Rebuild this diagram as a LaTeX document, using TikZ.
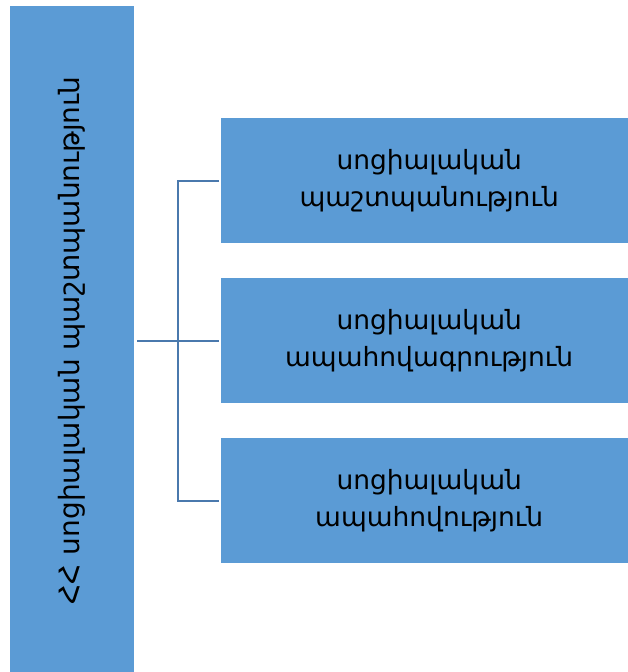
\documentclass[tikz,border=0pt]{standalone}
\usepackage{fontspec}
\setmainfont{DejaVu Sans}
\definecolor{boxblue}{HTML}{5B9BD5}
\definecolor{linkblue}{HTML}{4A79AD}
\begin{document}
\begin{tikzpicture}[x=1pt,y=-1pt,
  box/.style={fill=boxblue, draw=none, inner sep=0pt},
  lbl/.style={font=\fontsize{26.5}{37}\selectfont, align=center, text=black},
  vlbl/.style={font=\fontsize{28}{37}\selectfont, text=black},
  link/.style={draw=linkblue, line width=2pt}]
\useasboundingbox (0,0) rectangle (628,672);
\node[box, minimum width=124pt, minimum height=668pt, anchor=north west] (main) at (10,6) {};
\node[vlbl, rotate=90] (mainlbl) at (main.center) {ՀՀ սոցիալական պաշտպանություն};
\node[box, lbl, minimum width=416pt, minimum height=125pt, anchor=north west] (b1) at (221,118) {սոցիալական\\պաշտպանություն};
\node[box, lbl, minimum width=416pt, minimum height=125pt, anchor=north west] (b2) at (221,278) {սոցիալական\\ապահովագրություն};
\node[box, lbl, minimum width=416pt, minimum height=125pt, anchor=north west] (b3) at (221,438) {սոցիալական\\ապահովություն};
\coordinate (j) at (178,0);
\draw[link] ([xshift=3pt]main.east |- b2.west) -- ([xshift=-2pt]b2.west);
\draw[link] ([xshift=-2pt]b1.west) -- (j |- b1.west) -- (j |- b3.west) -- ([xshift=-2pt]b3.west);
\end{tikzpicture}
\end{document}
